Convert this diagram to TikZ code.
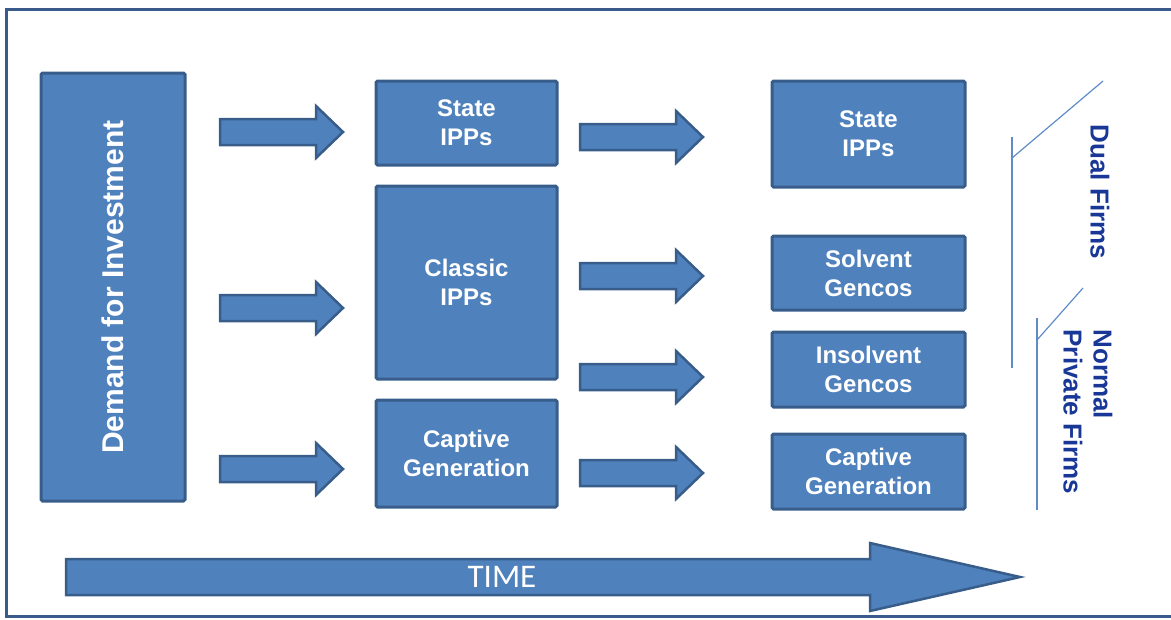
\documentclass[tikz,border=0pt]{standalone}
\usepackage{fontspec}
\setmainfont{Liberation Sans}
\newfontfamily\timefont{Carlito}
\definecolor{boxfill}{RGB}{79,129,189}
\definecolor{boxedge}{RGB}{56,93,138}
\definecolor{framecol}{RGB}{58,90,140}
\definecolor{labelblue}{RGB}{25,55,150}
\definecolor{bracketcol}{RGB}{95,140,200}

% block arrow: x-start, x-tip, y-centre, shaft half-height, head half-height, head length
\newcommand{\blockarrow}[6]{%
  \draw[blockarrowstyle]
    (#1,{#3-#4}) -- ({#2-#6},{#3-#4}) -- ({#2-#6},{#3-#5}) -- (#2,#3)
    -- ({#2-#6},{#3+#5}) -- ({#2-#6},{#3+#4}) -- (#1,{#3+#4}) -- cycle;}

\begin{document}
\begin{tikzpicture}[x=1pt,y=-1pt,
  stagebox/.style={draw=boxedge, fill=boxfill, line width=3pt,
    rounded corners=1.5pt, text=white, align=center, inner sep=0pt,
    font=\bfseries\fontsize{24}{29}\selectfont},
  blockarrowstyle/.style={draw=boxedge, fill=boxfill, line width=2.5pt, line join=miter},
  sidelabel/.style={text=labelblue, align=left, inner sep=0pt,
    font=\bfseries\fontsize{26}{30}\selectfont},
  bracketline/.style={draw=bracketcol, line width=2.2pt},
  bracketslant/.style={draw=bracketcol, line width=1.2pt}]
\useasboundingbox (0,0) rectangle (1171,619);

% outer frame, open to the right
\draw[framecol, line width=3pt] (1175,9) -- (6,9) -- (6,616) -- (1175,616);

% first column: demand
\node[stagebox, minimum width=144pt, minimum height=428pt] (demand) at (113,287) {};
\node[rotate=90, text=white, font=\bfseries\fontsize{30}{34}\selectfont] (demandlabel)
  at (demand.center) {Demand for Investment};

% second column
\node[stagebox, minimum width=181pt, minimum height=84pt]  (state1)   at (466.5,123)   {State\\IPPs};
\node[stagebox, minimum width=181pt, minimum height=193pt] (classic)  at (466.5,282.5) {Classic\\IPPs};
\node[stagebox, minimum width=181pt, minimum height=107pt] (captive1) at (466.5,453.5) {Captive\\Generation};

% third column
\node[stagebox, minimum width=193pt, minimum height=106pt] (state2)    at (868.5,134)   {State\\IPPs};
\node[stagebox, minimum width=193pt, minimum height=74pt]  (solvent)   at (868.5,273)   {Solvent\\Gencos};
\node[stagebox, minimum width=193pt, minimum height=75pt]  (insolvent) at (868.5,369.5) {Insolvent\\Gencos};
\node[stagebox, minimum width=193pt, minimum height=75pt]  (captive2)  at (868.5,471.5) {Captive\\Generation};

% block arrows between the columns
\blockarrow{220}{343}{132}{13}{26}{27}
\blockarrow{220}{343}{308}{13}{26}{27}
\blockarrow{220}{343}{469}{13}{26}{27}
\blockarrow{580}{703}{137}{13}{26}{27}
\blockarrow{580}{703}{276}{13}{26}{27}
\blockarrow{580}{703}{377}{13}{26}{27}
\blockarrow{580}{703}{473}{13}{26}{27}

% time axis
\blockarrow{66}{1020}{577}{18}{34}{150}
\node[text=white, font=\timefont\fontsize{33}{36}\selectfont] (time) at (502,577) {TIME};

% grouping brackets on the right
\draw[bracketline]  (1012,137) -- (1012,368);
\draw[bracketslant] (1012,158) -- (1103,81);
\draw[bracketline]  (1037,318) -- (1037,510);
\draw[bracketslant] (1037,340) -- (1083,288);

\node[sidelabel, rotate=-90] (dual)   at (1100,192) {Dual Firms};
\node[sidelabel, rotate=-90] (normal) at (1088,412) {Normal\\Private Firms};
\end{tikzpicture}
\end{document}
